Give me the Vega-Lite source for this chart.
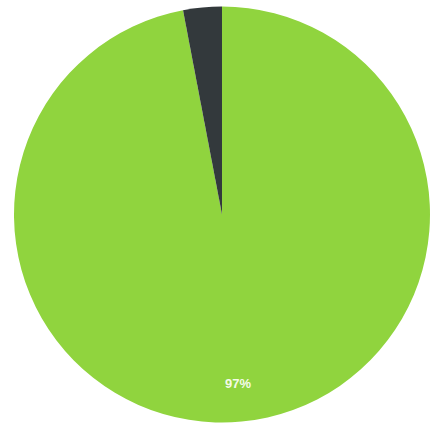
{
  "$schema": "https://vega.github.io/schema/vega-lite/v6.json",
  "width": 430,
  "height": 429,
  "autosize": {"type": "fit", "contains": "padding"},
  "padding": {"left": 14, "right": 0, "top": 5, "bottom": 5},
  "background": "white",
  "data": {"values": [
    {"category": "Yes", "value": 97, "label": "97%", "order": 1},
    {"category": "No", "value": 3, "label": "", "order": 2}
  ]},
  "encoding": {
    "theta": {"field": "value", "type": "quantitative", "stack": true},
    "order": {"field": "order", "type": "quantitative"}
  },
  "layer": [
    {
      "mark": {"type": "arc", "radius": 208},
      "encoding": {
        "color": {"field": "category", "type": "nominal", "scale": {"domain": ["Yes", "No"], "range": ["#90d43e", "#33393c"]}, "legend": null}
      }
    },
    {
      "mark": {"type": "text", "radius": 170, "color": "#f4fbe8", "fontWeight": "bold", "fontSize": 13, "font": "Liberation Sans"},
      "encoding": {"text": {"field": "label", "type": "nominal"}}
    }
  ],
  "view": {"stroke": null}
}
